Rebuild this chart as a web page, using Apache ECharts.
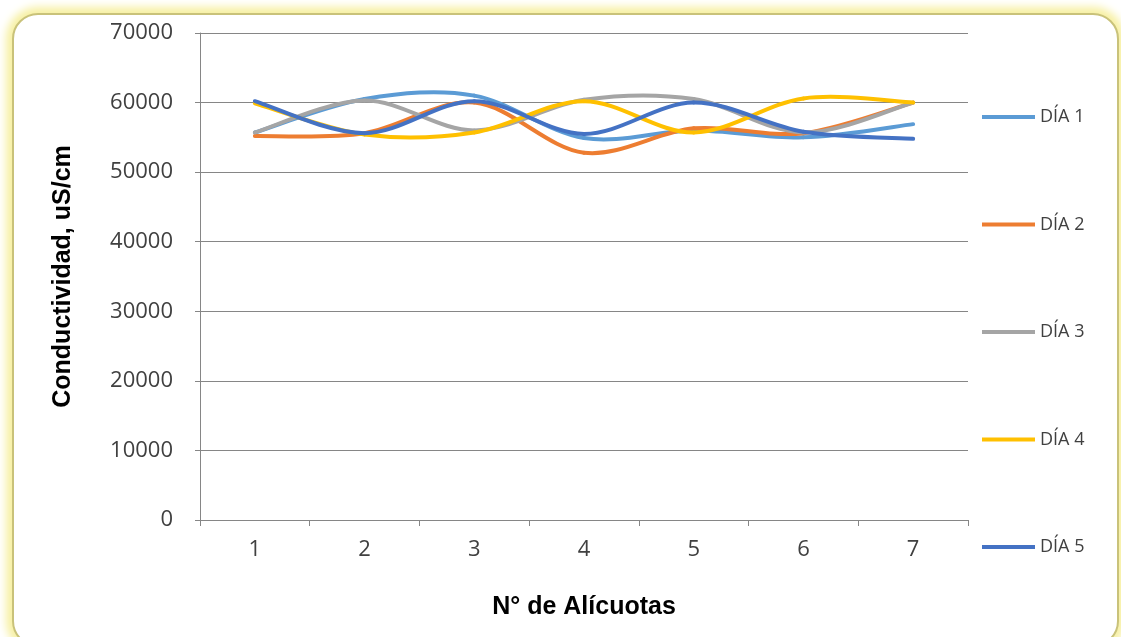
<!DOCTYPE html>
<html>
<head>
<meta charset="utf-8">
<script src="https://cdn.jsdelivr.net/npm/echarts@6/dist/echarts.min.js"></script>
<style>
html,body{margin:0;padding:0;background:#fff;width:1121px;height:637px;overflow:hidden;}
#frame{position:absolute;left:12px;top:13px;width:1103px;height:630px;border:2px solid #C9C27A;border-radius:26px;box-shadow:0 0 8px 6px #F7F0A2;background:#fff;}
#chart{position:absolute;left:0;top:0;width:1121px;height:637px;}
</style>
</head>
<body>
<div id="frame"></div>
<div id="chart"></div>
<script>
const categories = ['1','2','3','4','5','6','7'];
const seriesNames = ['DÍA 1','DÍA 2','DÍA 3','DÍA 4','DÍA 5'];
const dia1 = [55700, 60500, 61000, 54900, 56000, 55000, 56900];
const dia2 = [55200, 55600, 60000, 52800, 56300, 55600, 60000];
const dia3 = [55700, 60300, 56000, 60400, 60500, 55700, 60000];
const dia4 = [59900, 55400, 55700, 60200, 55700, 60600, 60000];
const dia5 = [60200, 55600, 60200, 55500, 60000, 55800, 54800];
const colors = ['#5B9BD5','#ED7D31','#A5A5A5','#FFC000','#4472C4'];
const allData = [dia1, dia2, dia3, dia4, dia5];

// Excel-like smoothed line: cubic Bezier segment between consecutive points,
// control points derived from neighbouring points (Catmull-Rom, tension 1/6).
function makeRenderItem(values) {
  return function (params, api) {
    const i = params.dataIndex;
    if (i >= values.length - 1) return null;
    const n = values.length;
    const pt = k => { const c = Math.max(0, Math.min(n - 1, k)); return api.coord([c, values[c]]); };
    const p0 = pt(i - 1), p1 = pt(i), p2 = pt(i + 1), p3 = pt(i + 2);
    const c1 = [p1[0] + (p2[0] - p0[0]) / 6, p1[1] + (p2[1] - p0[1]) / 6];
    const c2 = [p2[0] - (p3[0] - p1[0]) / 6, p2[1] - (p3[1] - p1[1]) / 6];
    return {
      type: 'bezierCurve',
      shape: {x1: p1[0], y1: p1[1], cpx1: c1[0], cpy1: c1[1], cpx2: c2[0], cpy2: c2[1], x2: p2[0], y2: p2[1]},
      style: {stroke: api.visual('color'), lineWidth: 4, fill: null, lineCap: 'round'}
    };
  };
}

const chart = echarts.init(document.getElementById('chart'));
chart.setOption({
  animation: false,
  color: colors,
  grid: {left: 200, right: 153, top: 33, bottom: 117},
  legend: {
    orient: 'vertical',
    left: 977,
    top: 102,
    icon: 'rect',
    itemWidth: 53,
    itemHeight: 4,
    itemGap: 87.5,
    textStyle: {fontFamily: 'Open Sans', fontSize: 18, color: '#404040', lineHeight: 20, padding: [0,0,0,0]},
    data: seriesNames
  },
  xAxis: {
    type: 'category',
    data: categories,
    boundaryGap: true,
    name: 'N° de Alícuotas',
    nameLocation: 'middle',
    nameGap: 75,
    nameTextStyle: {fontFamily: 'Liberation Sans', fontWeight: 'bold', fontSize: 25, color: '#000'},
    axisLine: {lineStyle: {color: '#868686', width: 1}},
    axisTick: {show: true, length: 6, lineStyle: {color: '#868686'}},
    axisLabel: {fontFamily: 'Open Sans', fontSize: 22, color: '#404040', margin: 19}
  },
  yAxis: {
    type: 'value',
    min: 0, max: 70000, interval: 10000,
    name: 'Conductividad, uS/cm',
    nameLocation: 'middle',
    nameGap: 124,
    nameTextStyle: {fontFamily: 'Liberation Sans', fontWeight: 'bold', fontSize: 25, color: '#000'},
    axisLine: {show: true, lineStyle: {color: '#868686', width: 1}},
    axisTick: {show: true, length: 5, lineStyle: {color: '#868686'}},
    axisLabel: {fontFamily: 'Open Sans', fontSize: 22, color: '#404040', margin: 27, formatter: v => String(v)},
    splitLine: {lineStyle: {color: '#868686', width: 1}}
  },
  series: seriesNames.map((n, i) => ({
    name: n,
    type: 'custom',
    data: allData[i].map((v, k) => [k, v]),
    renderItem: makeRenderItem(allData[i]),
    itemStyle: {color: colors[i]},
    encode: {x: 0, y: 1}
  }))
});
</script>
</body>
</html>
